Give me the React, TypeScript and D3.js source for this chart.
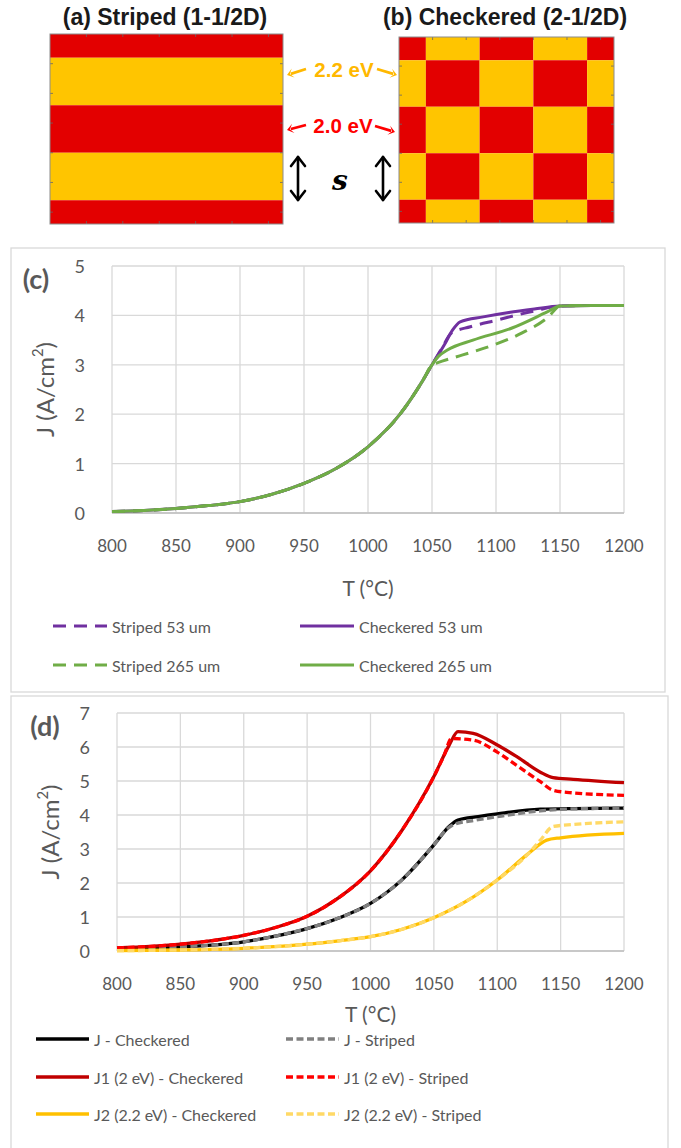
import React from "react";
import * as d3 from "d3";

const FONT = "Lato, 'Open Sans', sans-serif";
const TXT = "#595959";
const GRID = "#d9d9d9";
const RED = "#E30000";
const YEL = "#FFC500";

// ---------- panels (a) & (b) ----------
const patternEdges = [0, 0.5, 1.5, 2.5, 3.5, 4];
const stripeColors = [RED, YEL, RED, YEL, RED];

// ---------- chart (c) ----------
const cTicksX = [800, 850, 900, 950, 1000, 1050, 1100, 1150, 1200];
const cTicksY = [0, 1, 2, 3, 4, 5];
const cBaseT = [800, 825, 850, 875, 900, 925, 950, 975, 1000, 1025, 1043, 1050];
const cBaseJ = [0.03, 0.05, 0.09, 0.15, 0.23, 0.38, 0.6, 0.9, 1.34, 2.0, 2.69, 3.0];
const striped53T = [1058, 1065, 1080, 1100, 1130, 1150, 1175, 1200];
const striped53J = [3.35, 3.64, 3.77, 3.9, 4.09, 4.19, 4.2, 4.2];
const checkered53T = [1060, 1066, 1072, 1090, 1110, 1130, 1150, 1175, 1200];
const checkered53J = [3.42, 3.7, 3.87, 3.97, 4.06, 4.13, 4.19, 4.2, 4.2];
const striped265T = [1054, 1074, 1098, 1120, 1141, 1150, 1175, 1200];
const striped265J = [3.04, 3.2, 3.4, 3.64, 3.97, 4.19, 4.2, 4.2];
const checkered265T = [1055, 1062, 1082, 1113, 1140, 1150, 1175, 1200];
const checkered265J = [3.17, 3.3, 3.5, 3.75, 4.07, 4.19, 4.2, 4.2];

// ---------- chart (d) ----------
const dTicksX = [800, 850, 900, 950, 1000, 1050, 1100, 1150, 1200];
const dTicksY = [0, 1, 2, 3, 4, 5, 6, 7];
const dBaseT = [800, 850, 900, 925, 950, 975, 1000, 1025, 1050];
const jBase = [0.05, 0.12, 0.27, 0.44, 0.66, 0.97, 1.4, 2.1, 3.12];
const jChkT = [1062, 1069, 1085, 1100, 1134, 1160, 1200];
const jChkJ = [3.66, 3.85, 3.95, 4.03, 4.17, 4.19, 4.2];
const jStrT = [1060, 1067, 1080, 1100, 1134, 1160, 1200];
const jStrJ = [3.58, 3.74, 3.83, 3.95, 4.12, 4.18, 4.2];
const j1Base = [0.09, 0.2, 0.46, 0.69, 1.02, 1.57, 2.36, 3.56, 5.13];
const j1ChkT = [1062, 1069, 1081, 1100, 1116, 1134, 1144, 1160, 1200];
const j1ChkJ = [6.05, 6.45, 6.4, 6.06, 5.7, 5.26, 5.1, 5.05, 4.95];
const j1StrT = [1058, 1064, 1081, 1100, 1115, 1134, 1144, 1160, 1200];
const j1StrJ = [5.75, 6.25, 6.2, 5.85, 5.47, 4.98, 4.73, 4.65, 4.58];
const j2BaseT = [800, 850, 900, 950, 975, 1000, 1025, 1050, 1075, 1100, 1125];
const j2Base = [0.01, 0.03, 0.08, 0.2, 0.3, 0.42, 0.64, 0.98, 1.45, 2.09, 2.88];
const j2ChkT = [1139, 1150, 1200];
const j2ChkJ = [3.26, 3.33, 3.46];
const j2StrT = [1134, 1144, 1160, 1200];
const j2StrJ = [3.26, 3.66, 3.72, 3.8];

type Pt = [number, number];
const zip = (t: number[], j: number[]): Pt[] => t.map((v, i) => [v, j[i]]);

interface Series {
  name: string;
  pts: Pt[];
  color: string;
  dash?: string;
}

const cSeries: Series[] = [
  { name: "Striped 53 um", pts: [...zip(cBaseT, cBaseJ), ...zip(striped53T, striped53J)], color: "#7030A0", dash: "13,8" },
  { name: "Checkered 53 um", pts: [...zip(cBaseT, cBaseJ), ...zip(checkered53T, checkered53J)], color: "#7030A0" },
  { name: "Striped 265 um", pts: [...zip(cBaseT, cBaseJ), ...zip(striped265T, striped265J)], color: "#70AD47", dash: "13,8" },
  { name: "Checkered 265 um", pts: [...zip(cBaseT, cBaseJ), ...zip(checkered265T, checkered265J)], color: "#70AD47" },
];

const dSeries: Series[] = [
  { name: "J - Checkered", pts: [...zip(dBaseT, jBase), ...zip(jChkT, jChkJ)], color: "#000000" },
  { name: "J - Striped", pts: [...zip(dBaseT, jBase), ...zip(jStrT, jStrJ)], color: "#808080", dash: "7,3.5" },
  { name: "J1 (2 eV) - Checkered", pts: [...zip(dBaseT, j1Base), ...zip(j1ChkT, j1ChkJ)], color: "#C00000" },
  { name: "J1 (2 eV) - Striped", pts: [...zip(dBaseT, j1Base), ...zip(j1StrT, j1StrJ)], color: "#FF0000", dash: "7,3.5" },
  { name: "J2 (2.2 eV) - Checkered", pts: [...zip(j2BaseT, j2Base), ...zip(j2ChkT, j2ChkJ)], color: "#FFC000" },
  { name: "J2 (2.2 eV) - Striped", pts: [...zip(j2BaseT, j2Base), ...zip(j2StrT, j2StrJ)], color: "#FFD966", dash: "7,3.5" },
];

function YLabel({ x, y, size }: { x: number; y: number; size: number }) {
  return (
    <text transform={`translate(${x},${y}) rotate(-90)`} textAnchor="middle" dominantBaseline="middle"
      fill={TXT} fontFamily={FONT} fontSize={size}>
      J (A/cm<tspan fontSize={size * 0.62} dy={-size * 0.38}>2</tspan><tspan dy={size * 0.38}>)</tspan>
    </text>
  );
}

interface ChartProps {
  left: number; right: number; top: number; bottom: number;
  yMax: number; xTicks: number[]; yTicks: number[]; series: Series[];
  lw: number; xLabelDy: number; titleDy: number; yLabelX: number; yTickGap: number;
}

function Chart(p: ChartProps) {
  const x = d3.scaleLinear().domain([800, 1200]).range([p.left, p.right]);
  const y = d3.scaleLinear().domain([0, p.yMax]).range([p.bottom, p.top]);
  const line = d3.line<Pt>().x((d) => x(d[0])).y((d) => y(d[1])).curve(d3.curveMonotoneX);
  return (
    <g>
      {p.yTicks.map((t) => (
        <line key={"gy" + t} x1={p.left} x2={p.right} y1={y(t)} y2={y(t)} stroke={GRID} strokeWidth={1.3} />
      ))}
      {p.xTicks.map((t) => (
        <line key={"gx" + t} x1={x(t)} x2={x(t)} y1={p.top} y2={p.bottom} stroke={GRID} strokeWidth={1.3} />
      ))}
      <line x1={p.left} x2={p.right} y1={p.bottom} y2={p.bottom} stroke="#bfbfbf" strokeWidth={1.5} />
      {p.yTicks.map((t) => (
        <text key={"ly" + t} x={p.left - p.yTickGap} y={y(t)} textAnchor="end" dominantBaseline="central"
          fill={TXT} fontFamily={FONT} fontSize={18}>{t}</text>
      ))}
      {p.xTicks.map((t) => (
        <text key={"lx" + t} x={x(t)} y={p.bottom + p.xLabelDy} textAnchor="middle" dominantBaseline="central"
          fill={TXT} fontFamily={FONT} fontSize={17}>{t}</text>
      ))}
      <text x={(p.left + p.right) / 2} y={p.bottom + p.titleDy} textAnchor="middle" dominantBaseline="central"
        fill={TXT} fontFamily={FONT} fontSize={21}>T (°C)</text>
      <YLabel x={p.yLabelX} y={(p.top + p.bottom) / 2} size={24} />
      {p.series.map((s) => (
        <path key={s.name} d={line(s.pts) || ""} fill="none" stroke={s.color} strokeWidth={p.lw}
          strokeDasharray={s.dash} strokeLinejoin="round" />
      ))}
    </g>
  );
}

function Legend({ series, rows, cols, lineLen, lw }: { series: Series[]; rows: number[]; cols: number[]; lineLen: number; lw: number }) {
  return (
    <g>
      {series.map((s, i) => {
        const r = Math.floor(i / 2);
        const c = i % 2;
        const x0 = cols[c];
        const yy = rows[r];
        return (
          <g key={s.name}>
            <line x1={x0} x2={x0 + lineLen} y1={yy} y2={yy} stroke={s.color} strokeWidth={lw} strokeDasharray={s.dash} />
            <text x={x0 + lineLen + 5} y={yy} dominantBaseline="central" fill={TXT} fontFamily={FONT} fontSize={16}>{s.name}</text>
          </g>
        );
      })}
    </g>
  );
}

function Arrow({ x1, y1, x2, y2, color, w }: { x1: number; y1: number; x2: number; y2: number; color: string; w: number }) {
  const ang = Math.atan2(y2 - y1, x2 - x1);
  const hl = 8;
  const a1 = ang + Math.PI * 0.8;
  const a2 = ang - Math.PI * 0.8;
  const pts = [
    [x2, y2],
    [x2 + hl * Math.cos(a1), y2 + hl * Math.sin(a1)],
    [x2 - 3 * Math.cos(ang), y2 - 3 * Math.sin(ang)],
    [x2 + hl * Math.cos(a2), y2 + hl * Math.sin(a2)],
  ];
  return (
    <g>
      <line x1={x1} y1={y1} x2={x2 - 4 * Math.cos(ang)} y2={y2 - 4 * Math.sin(ang)} stroke={color} strokeWidth={w} />
      <polygon points={pts.map((q) => q.join(",")).join(" ")} fill={color} />
    </g>
  );
}

function DoubleArrow({ x, y1, y2 }: { x: number; y1: number; y2: number }) {
  return (
    <g fill="none" stroke="#000" strokeWidth={2.6} strokeLinecap="round" strokeLinejoin="round">
      <line x1={x} x2={x} y1={y1} y2={y2} />
      <polyline points={`${x - 7},${y1 + 9} ${x},${y1} ${x + 7},${y1 + 9}`} />
      <polyline points={`${x - 7},${y2 - 9} ${x},${y2} ${x + 7},${y2 - 9}`} />
    </g>
  );
}

function PatternBox({ x0, x1, y0, y1, checker }: { x0: number; x1: number; y0: number; y1: number; checker: boolean }) {
  const sx = d3.scaleLinear().domain([0, 4]).range([x0, x1]);
  const sy = d3.scaleLinear().domain([0, 4]).range([y0, y1]);
  const cells: JSX.Element[] = [];
  for (let r = 0; r < patternEdges.length - 1; r++) {
    if (!checker) {
      cells.push(<rect key={`s${r}`} x={x0} width={x1 - x0} y={sy(patternEdges[r])}
        height={sy(patternEdges[r + 1]) - sy(patternEdges[r])} fill={stripeColors[r]} />);
    } else {
      for (let c = 0; c < patternEdges.length - 1; c++) {
        cells.push(<rect key={`c${r}-${c}`} x={sx(patternEdges[c])} width={sx(patternEdges[c + 1]) - sx(patternEdges[c])}
          y={sy(patternEdges[r])} height={sy(patternEdges[r + 1]) - sy(patternEdges[r])}
          fill={(r + c) % 2 === 0 ? RED : YEL} />);
      }
    }
  }
  const tx = d3.range(1, 7).map((k) => x0 + (k * (x1 - x0)) / 6.4);
  const ty = d3.range(1, 7).map((k) => y0 + (k * (y1 - y0)) / 6.4);
  return (
    <g>
      {cells}
      {tx.map((t, i) => (
        <g key={"tx" + i} stroke="#666" strokeWidth={0.8}>
          <line x1={t} x2={t} y1={y1} y2={y1 - 3} />
          <line x1={t} x2={t} y1={y0} y2={y0 + 3} />
        </g>
      ))}
      {ty.map((t, i) => (
        <g key={"ty" + i} stroke="#666" strokeWidth={0.8}>
          <line x1={x0} x2={x0 + 3} y1={t} y2={t} />
          <line x1={x1} x2={x1 - 3} y1={t} y2={t} />
        </g>
      ))}
      <rect x={x0} y={y0} width={x1 - x0} height={y1 - y0} fill="none" stroke="#8c8c8c" strokeWidth={1} />
    </g>
  );
}

const SANS = "'Liberation Sans', Arial, sans-serif";

export default function App() {
  return (
    <svg width={681} height={1148} viewBox="0 0 681 1148"
      style={{ position: "absolute", left: 0, top: 0, background: "#fff" }}>
      <rect x={0} y={0} width={681} height={1148} fill="#fff" />
      {/* (a) and (b) */}
      <text x={165} y={17} textAnchor="middle" dominantBaseline="central" fontFamily={SANS}
        fontWeight="bold" fontSize={23} fill="#1a1a1a">(a) Striped (1-1/2D)</text>
      <text x={505} y={17} textAnchor="middle" dominantBaseline="central" fontFamily={SANS}
        fontWeight="bold" fontSize={23} fill="#1a1a1a">(b) Checkered (2-1/2D)</text>
      <PatternBox x0={50} x1={283} y0={34} y1={224} checker={false} />
      <PatternBox x0={399} x1={614} y0={37} y1={223} checker={true} />
      <Arrow x1={306} y1={69} x2={287} y2={75} color="#FFB800" w={2.8} />
      <Arrow x1={377} y1={69} x2={397} y2={75} color="#FFB800" w={2.8} />
      <Arrow x1={306} y1={125} x2={287} y2={130} color="#FF0000" w={2.8} />
      <Arrow x1={375} y1={126} x2={395} y2={132} color="#FF0000" w={2.8} />
      <text x={344} y={69} textAnchor="middle" dominantBaseline="central" fontFamily={SANS}
        fontWeight="bold" fontSize={20.5} fill="#FFB800">2.2 eV</text>
      <text x={343} y={125} textAnchor="middle" dominantBaseline="central" fontFamily={SANS}
        fontWeight="bold" fontSize={20.5} fill="#FF0000">2.0 eV</text>
      <DoubleArrow x={298} y1={157} y2={200} />
      <DoubleArrow x={383} y1={157} y2={200} />
      <text x={340} y={180} textAnchor="middle" dominantBaseline="central" fontFamily="'DejaVu Serif', serif"
        fontStyle="italic" fontWeight="bold" fontSize={28} fill="#000">s</text>

      {/* (c) frame */}
      <rect x={11} y={248} width={654} height={444} fill="none" stroke="#d9d9d9" strokeWidth={1.3} />
      <text x={36} y={278} textAnchor="middle" dominantBaseline="central" fontFamily={FONT} fontWeight="bold"
        fontSize={27} fill={TXT}>(c)</text>
      <Chart left={112} right={624} top={266} bottom={513} yMax={5} xTicks={cTicksX} yTicks={cTicksY}
        series={cSeries} lw={3} xLabelDy={32} titleDy={74} yLabelX={48} yTickGap={27} />
      <Legend series={cSeries} rows={[626, 665]} cols={[53, 300]} lineLen={54} lw={3} />

      {/* (d) frame */}
      <rect x={11} y={696} width={657} height={470} fill="none" stroke="#d9d9d9" strokeWidth={1.3} />
      <text x={45} y={725} textAnchor="middle" dominantBaseline="central" fontFamily={FONT} fontWeight="bold"
        fontSize={27} fill={TXT}>(d)</text>
      <Chart left={117} right={624} top={713} bottom={951} yMax={7} xTicks={dTicksX} yTicks={dTicksY}
        series={dSeries} lw={3.3} xLabelDy={32} titleDy={62} yLabelX={53} yTickGap={27} />
      <Legend series={dSeries} rows={[1039, 1077, 1114]} cols={[36, 286]} lineLen={53} lw={3.3} />
    </svg>
  );
}
